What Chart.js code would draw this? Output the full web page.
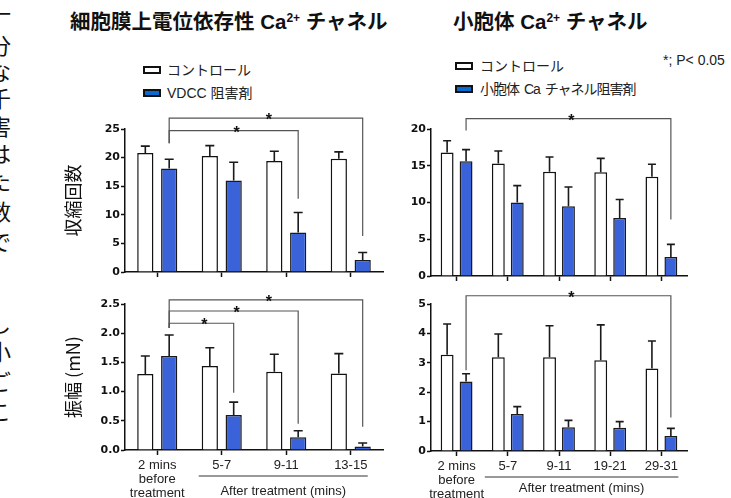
<!DOCTYPE html>
<html>
<head>
<meta charset="utf-8">
<script src="https://cdn.jsdelivr.net/npm/chart.js@4.4.0/dist/chart.umd.min.js"></script>
<style>
  body { margin: 0; width: 731px; height: 498px; background: #fff; position: relative; overflow: hidden;
         font-family: "Liberation Sans", Arial, "Noto Sans CJK JP", sans-serif; color: #111; }
  .abs { position: absolute; white-space: nowrap; }
  .title { font-size: 20.5px; font-weight: bold; line-height: 24px; }
  .title sup { font-size: 12px; vertical-align: 7px; line-height: 0; }
  .leg { font-size: 14px; line-height: 18px; color: #222; }
  .box { position: absolute; width: 14px; height: 4px; border: 2px solid #111; }
  .strip { font-family: "Noto Sans CJK JP", sans-serif; font-size: 22px; line-height: 24px; left: -11px; color: #111; }
  canvas { position: absolute; }
</style>
</head>
<body>

<!-- texto cortado da coluna vizinha -->
<div class="abs strip" style="top:0px">一</div>
<div class="abs strip" style="top:32px">分</div>
<div class="abs strip" style="top:58px">な</div>
<div class="abs strip" style="top:85px">千</div>
<div class="abs strip" style="top:113px">害</div>
<div class="abs strip" style="top:140px">は</div>
<div class="abs strip" style="top:168px">た</div>
<div class="abs strip" style="top:198px">数</div>
<div class="abs strip" style="top:228px">で</div>
<div class="abs strip" style="top:310px">し</div>
<div class="abs strip" style="top:338px">小</div>
<div class="abs strip" style="top:368px">ご</div>
<div class="abs strip" style="top:398px">こ</div>

<!-- títulos -->
<div class="abs title" style="left:70px; top:10px">細胞膜上電位依存性 Ca<sup>2+</sup> チャネル</div>
<div class="abs title" style="left:453px; top:10px">小胞体 Ca<sup>2+</sup> チャネル</div>

<!-- legendas -->
<div class="box" style="left:143px; top:66px; background:#fff"></div>
<div class="abs leg" style="left:167px; top:61px">コントロール</div>
<div class="box" style="left:143px; top:89px; background:#0a6ad0"></div>
<div class="abs leg" style="left:167px; top:84px">VDCC 阻害剤</div>

<div class="box" style="left:455px; top:62px; background:#fff"></div>
<div class="abs leg" style="left:480px; top:57px">コントロール</div>
<div class="box" style="left:455px; top:85px; background:#0a6ad0"></div>
<div class="abs leg" style="left:480px; top:80px; letter-spacing:-1px; word-spacing:2px">小胞体 Ca チャネル阻害剤</div>

<div class="abs leg" style="left:663px; top:51px">*; P&lt; 0.05</div>

<canvas id="vdcc-count" width="330" height="185" style="left:60px; top:100px"></canvas>
<canvas id="vdcc-amp" width="330" height="213" style="left:60px; top:285px"></canvas>
<canvas id="ves-count" width="341" height="185" style="left:390px; top:100px"></canvas>
<canvas id="ves-amp" width="341" height="213" style="left:390px; top:285px"></canvas>

<script>
// Categorias
const vdccLabels = [['2 mins', 'before', 'treatment'], '5-7', '9-11', '13-15'];
const vesLabels = [['2 mins', 'before', 'treatment'], '5-7', '9-11', '19-21', '29-31'];

// Canal VDCC - número de contrações
const vdccCountCtrl = [20.8, 20.3, 19.4, 19.8];
const vdccCountCtrlErr = [1.2, 1.8, 1.7, 1.2];
const vdccCountDrug = [18.1, 16.0, 6.9, 2.1];
const vdccCountDrugErr = [1.6, 3.2, 3.5, 1.3];

// Canal VDCC - amplitude (mN)
const vdccAmpCtrl = [1.30, 1.44, 1.34, 1.31];
const vdccAmpCtrlErr = [0.31, 0.31, 0.30, 0.34];
const vdccAmpDrug = [1.61, 0.60, 0.22, 0.06];
const vdccAmpDrugErr = [0.36, 0.22, 0.11, 0.06];

// Retículo - número de contrações
const vesCountCtrl = [16.8, 15.3, 14.2, 14.1, 13.5];
const vesCountCtrlErr = [1.6, 1.7, 2.0, 1.9, 1.7];
const vesCountDrug = [15.6, 10.0, 9.5, 7.9, 2.6];
const vesCountDrugErr = [1.6, 2.3, 2.6, 2.5, 1.7];

// Retículo - amplitude
const vesAmpCtrl = [3.27, 3.19, 3.19, 3.09, 2.81];
const vesAmpCtrlErr = [1.05, 0.79, 1.07, 1.20, 0.93];
const vesAmpDrug = [2.36, 1.26, 0.81, 0.79, 0.51];
const vesAmpDrugErr = [0.27, 0.25, 0.23, 0.21, 0.26];

// Marcas de significância: [categoria alvo, nível, início, fim] (em valores do eixo y)
const vdccCountSig = [[3, 26.9, 22.5, 6.3], [2, 24.7, 22.5, 12.8]];
const vdccAmpSig = [[3, 2.57, 2.09, 0.40], [2, 2.38, 2.09, 0.45], [1, 2.17, 2.09, 0.98]];
const vesCountSig = [[4, 21.4, 19.8, 7.7]];
const vesAmpSig = [[4, 5.28, 2.75, 1.14]];

const ink = '#111';
const blue = '#3a62d9';
const latin = '"Liberation Sans", Arial, sans-serif';

// Plugin para barras de erro, colchetes e legenda "After treatment"
const extrasPlugin = {
    id: 'extras',
    afterDatasetsDraw(chart, args, opts) {
        const ctx = chart.ctx;
        const yScale = chart.scales.y;
        ctx.save();
        ctx.strokeStyle = '#1a1a1a';
        ctx.lineWidth = 1.6;
        chart.data.datasets.forEach((ds, di) => {
            const meta = chart.getDatasetMeta(di);
            meta.data.forEach((bar, i) => {
                const top = yScale.getPixelForValue(ds.data[i] + ds.errors[i]);
                ctx.beginPath();
                ctx.moveTo(bar.x, bar.y);
                ctx.lineTo(bar.x, top);
                ctx.moveTo(bar.x - opts.cap, top);
                ctx.lineTo(bar.x + opts.cap, top);
                ctx.stroke();
            });
        });

        // Colchetes de significância
        const drug = chart.getDatasetMeta(1).data;
        ctx.strokeStyle = '#555';
        ctx.lineWidth = 1.2;
        ctx.fillStyle = ink;
        ctx.font = 'bold 16px ' + latin;
        ctx.textAlign = 'center';
        ctx.textBaseline = 'alphabetic';
        (opts.brackets || []).forEach(b => {
            const x0 = drug[0].x;
            const x1 = drug[b[0]].x;
            const yl = yScale.getPixelForValue(b[1]);
            ctx.beginPath();
            ctx.moveTo(x0, yScale.getPixelForValue(b[2]));
            ctx.lineTo(x0, yl);
            ctx.lineTo(x1, yl);
            ctx.lineTo(x1, yScale.getPixelForValue(b[3]));
            ctx.stroke();
            ctx.fillText('*', (x0 + x1) / 2 + 3, yl + 7);
        });
        ctx.restore();
    },
    afterDraw(chart, args, opts) {
        if (!opts.after) return;
        const ctx = chart.ctx;
        const xScale = chart.scales.x;
        const bottom = chart.chartArea.bottom;
        const n = chart.data.labels.length;
        const left = xScale.getPixelForValue(1) - 23;
        const right = xScale.getPixelForValue(n - 1) + 17;
        ctx.save();
        ctx.strokeStyle = '#333';
        ctx.lineWidth = 1;
        ctx.beginPath();
        ctx.moveTo(left, bottom + 26);
        ctx.lineTo(right, bottom + 26);
        ctx.stroke();
        ctx.fillStyle = '#222';
        ctx.font = '13px ' + latin;
        ctx.textAlign = 'center';
        ctx.textBaseline = 'middle';
        ctx.fillText('After treatment (mins)', (left + right) / 2, bottom + opts.after);
        ctx.restore();
    }
};

function makeChart(id, cfg) {
    const ctx = document.getElementById(id).getContext('2d');
    return new Chart(ctx, {
        type: 'bar',
        data: {
            labels: cfg.labels,
            datasets: [
                { data: cfg.ctrl, errors: cfg.ctrlErr, backgroundColor: '#fff', borderColor: ink, borderWidth: 1.5 },
                { data: cfg.drug, errors: cfg.drugErr, backgroundColor: blue, borderColor: '#1a1a1a', borderWidth: 1.5 }
            ]
        },
        options: {
            responsive: false,
            animation: false,
            barPercentage: 0.68,
            categoryPercentage: 0.74,
            layout: { padding: cfg.padding },
            plugins: {
                legend: { display: false },
                tooltip: { enabled: false },
                extras: { brackets: cfg.brackets, after: cfg.after, cap: cfg.cap }
            },
            scales: {
                x: {
                    grid: { offset: false, drawOnChartArea: false, drawTicks: true, tickLength: 5, tickColor: ink, tickWidth: 1.5 },
                    border: { color: ink, width: 1.5 },
                    ticks: {
                        display: cfg.showX, color: '#222', padding: 4, maxRotation: 0, autoSkip: false,
                        font: { family: latin, size: 13, lineHeight: 1.05 }
                    },
                    afterFit: s => { s.height = cfg.xHeight; }
                },
                y: {
                    min: 0,
                    max: cfg.max,
                    grid: { drawOnChartArea: false, tickLength: 4, tickColor: ink, tickWidth: 1.5 },
                    border: { color: ink, width: 1.5 },
                    ticks: {
                        stepSize: cfg.step, color: ink, padding: 1,
                        font: { family: '"DejaVu Sans", sans-serif', size: 11, weight: 'bold' },
                        callback: v => cfg.decimals ? v.toFixed(cfg.decimals) : v
                    },
                    title: {
                        display: !!cfg.yTitle, text: cfg.yTitle, color: ink, padding: { top: 2, bottom: 0 },
                        font: { family: '"Noto Sans CJK JP", sans-serif', size: 18 }
                    },
                    afterFit: s => { s.width = cfg.yWidth; }
                }
            }
        },
        plugins: [extrasPlugin]
    });
}

makeChart('vdcc-count', {
    labels: vdccLabels, ctrl: vdccCountCtrl, ctrlErr: vdccCountCtrlErr, drug: vdccCountDrug, drugErr: vdccCountDrugErr,
    max: 25, step: 5, decimals: 0, yTitle: '収縮回数', yWidth: 65, xHeight: 13, showX: false,
    padding: { left: 0, top: 29, right: 7, bottom: 0 }, brackets: vdccCountSig, cap: 4.5
});
makeChart('vdcc-amp', {
    labels: vdccLabels, ctrl: vdccAmpCtrl, ctrlErr: vdccAmpCtrlErr, drug: vdccAmpDrug, drugErr: vdccAmpDrugErr,
    max: 2.5, step: 0.5, decimals: 1, yTitle: '振幅 (mN)', yWidth: 65, xHeight: 48, showX: true,
    padding: { left: 0, top: 19, right: 7, bottom: 0 }, brackets: vdccAmpSig, after: 41, cap: 4.5
});
makeChart('ves-count', {
    labels: vesLabels, ctrl: vesCountCtrl, ctrlErr: vesCountCtrlErr, drug: vesCountDrug, drugErr: vesCountDrugErr,
    max: 20, step: 5, decimals: 0, yTitle: '', yWidth: 40, xHeight: 9, showX: false,
    padding: { left: 1, top: 29, right: 44, bottom: 0 }, brackets: vesCountSig, cap: 4
});
makeChart('ves-amp', {
    labels: vesLabels, ctrl: vesAmpCtrl, ctrlErr: vesAmpCtrlErr, drug: vesAmpDrug, drugErr: vesAmpDrugErr,
    max: 5, step: 1, decimals: 0, yTitle: '', yWidth: 40, xHeight: 47, showX: true,
    padding: { left: 1, top: 19, right: 44, bottom: 0 }, brackets: vesAmpSig, after: 37, cap: 4
});
</script>
</body>
</html>
